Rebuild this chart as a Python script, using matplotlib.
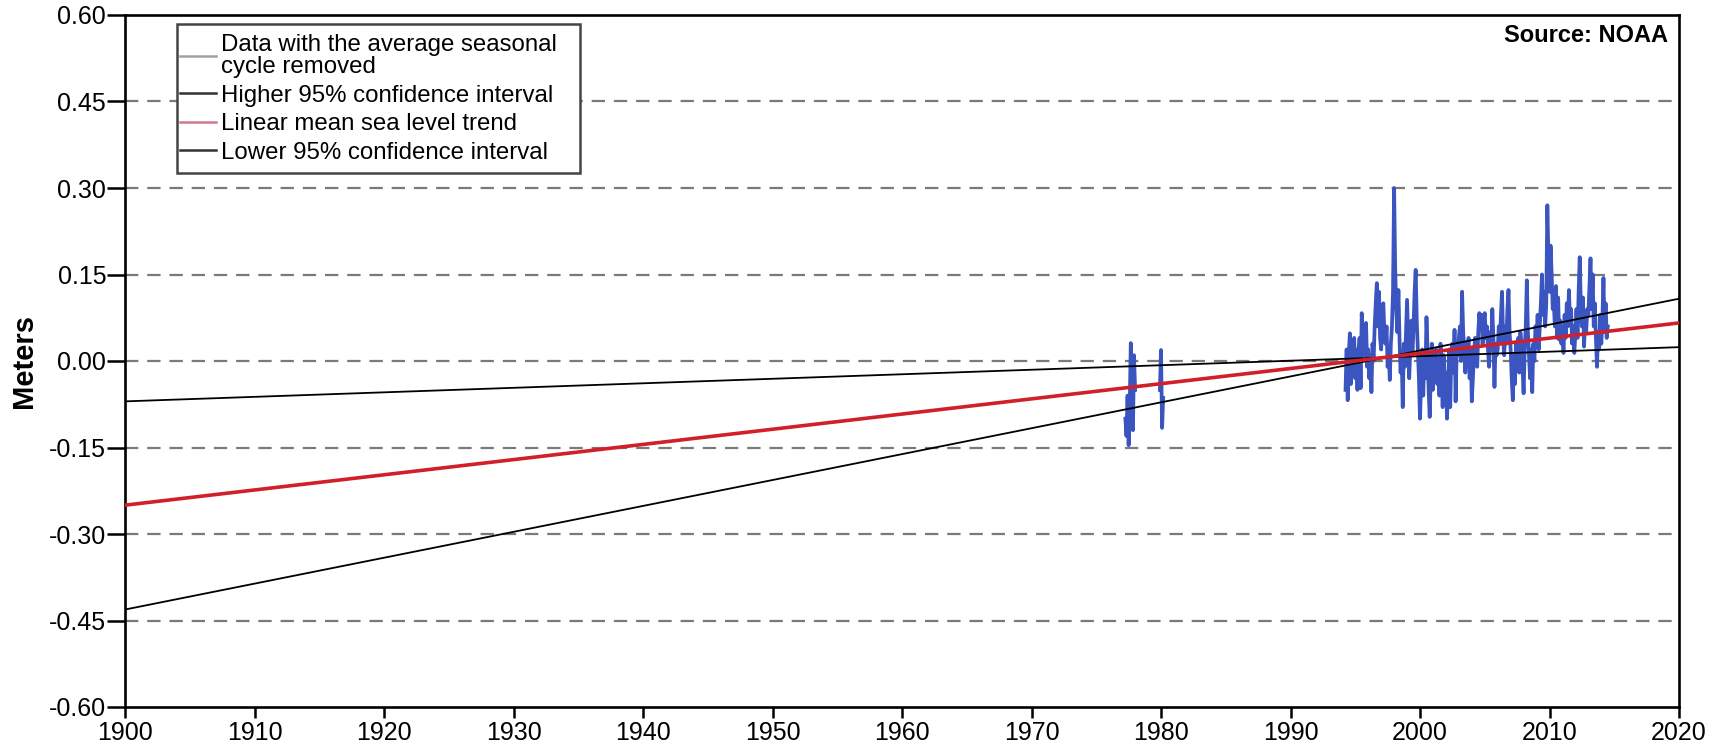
import numpy as np
import matplotlib
matplotlib.use("Agg")
import matplotlib.pyplot as plt
from matplotlib.lines import Line2D
from matplotlib.patches import Rectangle

plt.rcParams["font.family"] = ["Liberation Sans", "DejaVu Sans"]
plt.rcParams["axes.unicode_minus"] = False

# Monthly mean sea level (m), average seasonal cycle removed
seg_1977_start = 1977 + 3 / 12
seg_1977 = [-0.10, -0.13, -0.06, -0.146, -0.08, 0.031, -0.03, -0.12, 0.01, -0.05]

seg_1980_start = 1979 + 11 / 12
seg_1980 = [-0.05, 0.019, -0.116, -0.064]

seg_1994_start = 1994 + 3 / 12
y1994 = [-0.05, 0.02, -0.068, 0.01, 0.048, -0.04, 0.03, -0.02, 0.04]
y1995 = [-0.03, 0.02, -0.05, 0.01, 0.04, -0.047, 0.083, 0.03, 0.01, 0.05, 0.066, -0.01]
y1996 = [0.02, -0.03, 0.01, -0.054, 0.03, 0.00, 0.06, 0.10, 0.135, 0.06, 0.12, 0.04]
y1997 = [0.02, 0.07, 0.10, 0.05, 0.03, 0.06, -0.01, 0.02, -0.033, 0.03, 0.06, 0.12]
y1998 = [0.30, 0.16, 0.09, 0.05, 0.123, 0.04, -0.02, 0.01, -0.08, 0.03, -0.01, 0.05]
y1999 = [0.106, 0.04, -0.03, 0.02, 0.07, 0.01, 0.06, 0.12, 0.158, 0.07, 0.02, -0.03]
y2000 = [-0.10, -0.04, 0.02, -0.06, 0.01, -0.03, 0.076, 0.02, -0.05, -0.097, -0.02, 0.03]
y2001 = [-0.05, 0.01, -0.03, 0.02, -0.04, 0.00, -0.06, 0.03, -0.02, -0.08, 0.01, -0.04]
y2002 = [-0.02, -0.10, -0.05, 0.02, -0.08, 0.01, 0.03, -0.02, 0.054, -0.07, 0.02, 0.01]
y2003 = [0.04, 0.06, 0.00, 0.12, 0.05, 0.02, -0.02, 0.03, 0.01, 0.04, -0.03, 0.02]
y2004 = [-0.07, -0.03, 0.01, 0.04, 0.02, -0.01, 0.05, 0.083, 0.06, 0.08, 0.03, 0.07]
y2005 = [0.083, 0.04, 0.06, 0.02, -0.01, 0.05, 0.02, 0.09, 0.04, -0.045, 0.03, 0.01]
y2006 = [0.02, 0.06, 0.03, 0.08, 0.12, 0.04, 0.01, 0.06, 0.03, 0.09, 0.123, 0.05]
y2007 = [0.02, -0.03, -0.068, 0.01, -0.04, 0.03, 0.00, 0.04, -0.02, 0.05, 0.03, -0.01]
y2008 = [-0.056, 0.02, 0.06, 0.14, 0.05, 0.01, -0.03, 0.02, -0.054, 0.03, 0.00, 0.06]
y2009 = [0.04, 0.08, 0.02, 0.06, 0.10, 0.15, 0.08, 0.12, 0.06, 0.10, 0.27, 0.18]
y2010 = [0.12, 0.20, 0.15, 0.09, 0.10, 0.06, 0.13, 0.04, 0.11, 0.037, 0.07, 0.03]
y2011 = [0.05, 0.014, 0.08, 0.04, 0.10, 0.06, 0.123, 0.07, 0.09, 0.03, 0.06, 0.014]
y2012 = [0.05, 0.09, 0.04, 0.12, 0.18, 0.10, 0.06, 0.11, 0.025, 0.07, 0.05, 0.09]
y2013 = [0.08, 0.13, 0.178, 0.09, 0.15, 0.06, 0.10, 0.04, -0.01, 0.05, 0.02, 0.08]
y2014 = [0.03, 0.07, 0.144, 0.05, 0.10, 0.04, 0.06]

# Linear trend and its 95% confidence bounds (end points)
trend_years = [1900, 2020]
trend_mean = [-0.250, 0.066]
ci_higher = [-0.431, 0.108]
ci_lower = [-0.070, 0.024]

y_ticks = [-0.60, -0.45, -0.30, -0.15, 0.00, 0.15, 0.30, 0.45, 0.60]
x_ticks = list(range(1900, 2021, 10))

seg_1994 = (y1994 + y1995 + y1996 + y1997 + y1998 + y1999 + y2000 + y2001
            + y2002 + y2003 + y2004 + y2005 + y2006 + y2007 + y2008 + y2009
            + y2010 + y2011 + y2012 + y2013 + y2014)


def monthly_times(start, values):
    return start + np.arange(len(values)) / 12.0


xs, ys = [], []
for start, vals in [(seg_1977_start, seg_1977), (seg_1980_start, seg_1980),
                    (seg_1994_start, seg_1994)]:
    xs.extend(monthly_times(start, vals))
    ys.extend(vals)
    xs.append(np.nan)
    ys.append(np.nan)

W, H = 1715, 750
fig = plt.figure(figsize=(W / 100, H / 100), dpi=100)
ax = fig.add_axes([125 / W, 1 - 707 / H, 1554 / W, 692 / H])

blue = "#3b55c0"
red = "#d2202a"

for yv in y_ticks[1:-1]:
    ax.axhline(yv, color="#7a7a7a", lw=1.6, dashes=(6, 4), zorder=1)

ax.plot(xs, ys, color=blue, lw=2.7, zorder=2)
ax.plot(trend_years, ci_higher, color="black", lw=1.3, zorder=3)
ax.plot(trend_years, ci_lower, color="black", lw=1.3, zorder=3)
ax.plot(trend_years, trend_mean, color=red, lw=2.6, zorder=4)

ax.set_xlim(1900, 2020)
ax.set_ylim(-0.60, 0.60)
ax.set_xticks(x_ticks)
ax.set_yticks(y_ticks)
ax.set_yticklabels([f"{v:.2f}" for v in y_ticks])
ax.tick_params(axis="y", length=13, width=1.8, pad=0.5, labelsize=18,
               direction="out")
ax.tick_params(axis="x", length=8, width=1.8, pad=2, labelsize=18,
               direction="out")
for sp in ax.spines.values():
    sp.set_linewidth(1.9)
    sp.set_color("black")

ax.set_ylabel("Meters", fontsize=21, fontweight="bold")
ax.yaxis.set_label_coords(-0.056, 0.5)

ax.text(0.993, 0.987, "Source: NOAA", transform=ax.transAxes, ha="right",
        va="top", fontsize=17, fontweight="bold")

# Legend box
fig.add_artist(Rectangle((177 / W, 1 - 173 / H), 403 / W, 149 / H,
                         transform=fig.transFigure, facecolor="white",
                         edgecolor="#444444", lw=1.8, zorder=4.5))

handles = [
    Line2D([], [], color="#a0a0a0", lw=1.8),
    Line2D([], [], color="#333333", lw=1.8),
    Line2D([], [], color="#d07a8a", lw=1.8),
    Line2D([], [], color="#333333", lw=1.8),
]
labels = [
    "Data with the average seasonal\ncycle removed",
    "Higher 95% confidence interval",
    "Linear mean sea level trend",
    "Lower 95% confidence interval",
]
leg = fig.legend(handles, labels, loc="upper left",
                 bbox_to_anchor=(180 / W, 1 - 34 / H),
                 bbox_transform=fig.transFigure, fontsize=17.3,
                 frameon=False, borderpad=0, labelspacing=0.27,
                 handlelength=1.5, handletextpad=0.22, borderaxespad=0)
leg.set_zorder(5)
leg.get_texts()[0].set_linespacing(1.02)
for h in leg.legend_handles:
    h.set_linewidth(1.8)

fig.savefig("out.png", dpi=100, facecolor="white")
